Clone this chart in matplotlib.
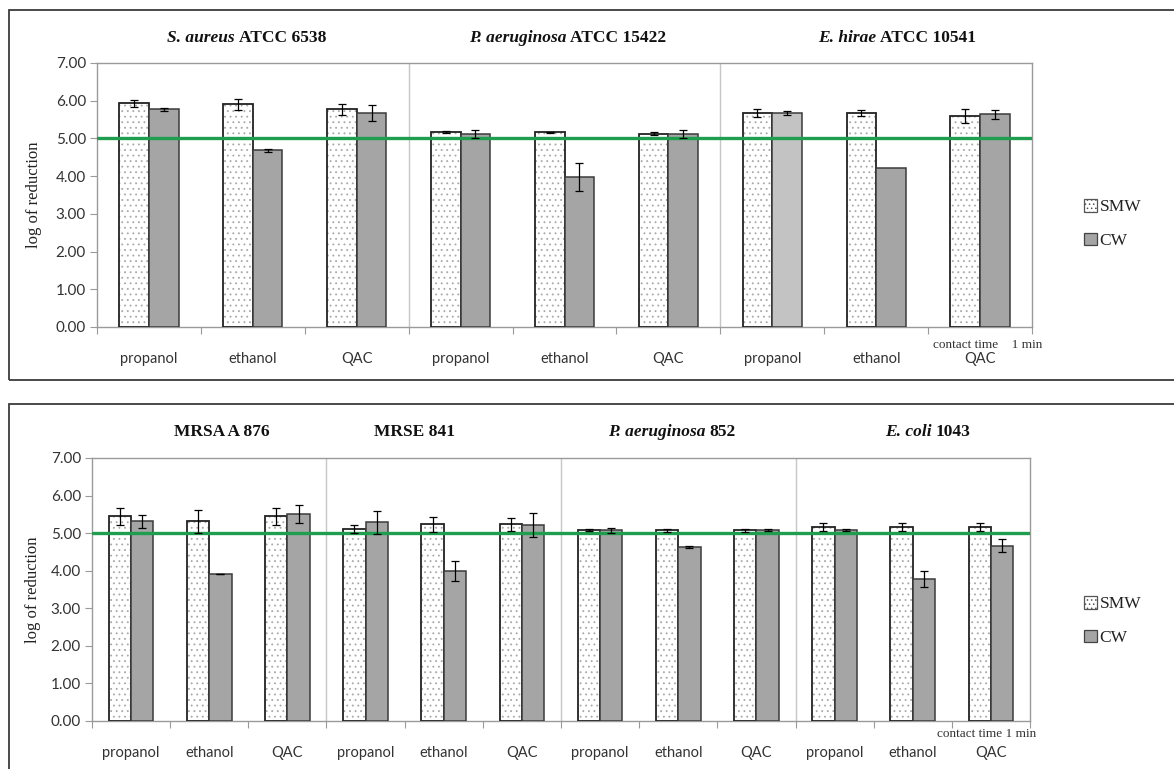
import numpy as np
import matplotlib
matplotlib.use("Agg")
import matplotlib.pyplot as plt
from matplotlib.patches import Patch, Rectangle
from matplotlib.offsetbox import TextArea, HPacker, AnnotationBbox
import matplotlib.transforms as mtransforms

# ---------------- data ----------------
top_categories = ["propanol", "ethanol", "QAC"] * 3
top_smw = [5.93, 5.90, 5.77, 5.17, 5.16, 5.13, 5.68, 5.68, 5.60]
top_smw_err = [0.10, 0.15, 0.15, 0.02, 0.02, 0.05, 0.10, 0.08, 0.19]
top_cw = [5.78, 4.69, 5.67, 5.12, 3.97, 5.12, 5.68, 4.21, 5.64]
top_cw_err = [0.04, 0.04, 0.22, 0.10, 0.37, 0.10, 0.06, 0.0, 0.12]
top_titles = [("S. aureus", "ATCC 6538"), ("P. aeruginosa", "ATCC 15422"),
              ("E. hirae", "ATCC 10541")]

bot_categories = ["propanol", "ethanol", "QAC"] * 4
bot_smw = [5.45, 5.31, 5.45, 5.11, 5.24, 5.24, 5.08, 5.08, 5.08, 5.16, 5.16, 5.16]
bot_smw_err = [0.22, 0.31, 0.22, 0.10, 0.20, 0.17, 0.03, 0.04, 0.04, 0.10, 0.10, 0.10]
bot_cw = [5.31, 3.91, 5.50, 5.29, 4.00, 5.21, 5.08, 4.64, 5.09, 5.08, 3.78, 4.67]
bot_cw_err = [0.16, 0.01, 0.24, 0.30, 0.27, 0.32, 0.07, 0.03, 0.03, 0.03, 0.21, 0.17]
bot_titles = [("", "MRSA A 876"), ("", "MRSE 841"), ("P. aeruginosa", "852"),
              ("E. coli", "1043")]

threshold = 5.0
series_names = ["SMW", "CW"]
y_ticks = [0, 1, 2, 3, 4, 5, 6, 7]

# ---------------- style ----------------
plt.rcParams['font.family'] = ['Lato', 'DejaVu Sans']
plt.rcParams['hatch.linewidth'] = 0.6
SERIF = ['Liberation Serif', 'DejaVu Serif']
W, H = 1174, 769
fig = plt.figure(figsize=(W / 100, H / 100), dpi=100)

CW_COLOR = '#a5a5a5'
CW_LIGHT = '#c3c3c3'
GREEN = '#1f9e50'
SPINE = '#9a9a9a'
TXT = '#333333'
DOT = '#a8a8a8'


def px_rect(l, t, r, b):
    return [l / W, 1 - b / H, (r - l) / W, (b - t) / H]


def draw_panel(ax, cats, smw, smw_err, cw, cw_err, titles, title_x, title_y,
               light_idx=None):
    n = len(cats)
    x = np.arange(n)
    w = 0.285
    ax.bar(x - w / 2, smw, w, color='white', edgecolor=DOT, hatch='...',
           linewidth=0, zorder=2)
    ax.bar(x - w / 2, smw, w, fill=False, edgecolor='#222222', linewidth=1.3,
           zorder=3)
    colors = [CW_COLOR] * n
    if light_idx is not None:
        colors[light_idx] = CW_LIGHT
    ax.bar(x + w / 2, cw, w, color=colors, edgecolor='#3a3a3a', linewidth=1.1,
           zorder=3)
    smw_a = np.array(smw); cw_a = np.array(cw)
    se = np.array(smw_err); ce = np.array(cw_err)
    m1 = se > 0
    ax.errorbar((x - w / 2)[m1], smw_a[m1], yerr=se[m1], fmt='none',
                ecolor='black', elinewidth=0.9, capsize=3, capthick=0.9,
                zorder=5)
    m2 = ce > 0
    ax.errorbar((x + w / 2)[m2], cw_a[m2], yerr=ce[m2], fmt='none',
                ecolor='black', elinewidth=0.9, capsize=3, capthick=0.9,
                zorder=5)
    ax.axhline(threshold, color=GREEN, linewidth=2.4, zorder=4)
    for b in np.arange(2.5, n - 1, 3):
        ax.axvline(b, color='#c6c6c6', linewidth=1.0, zorder=1)
    ax.set_xlim(-0.5, n - 0.5)
    ax.set_ylim(0, 7)
    ax.set_yticks(y_ticks)
    ax.yaxis.set_major_formatter('{x:.2f}')
    ax.set_xticks(np.arange(-0.5, n, 1.0))
    ax.set_xticklabels([])
    ax.set_xticks(x, minor=True)
    ax.set_xticklabels(cats, minor=True)
    ax.tick_params(axis='x', which='major', length=5, color=SPINE, direction='out')
    ax.tick_params(axis='x', which='minor', length=0, pad=18, labelsize=10.5,
                   labelcolor=TXT)
    ax.tick_params(axis='y', length=5, color=SPINE, labelsize=11, labelcolor=TXT,
                   pad=3)
    for s in ax.spines.values():
        s.set_color(SPINE)
        s.set_linewidth(1.0)
    trans = mtransforms.blended_transform_factory(ax.transData, fig.transFigure)
    for (it, up), tx in zip(titles, title_x):
        parts = []
        if it:
            parts.append(TextArea(it + " ", textprops=dict(
                family=SERIF, style='italic', weight='bold', size=12.5,
                color='#111111')))
        parts.append(TextArea(up, textprops=dict(
            family=SERIF, weight='bold', size=12.5, color='#111111')))
        pk = HPacker(children=parts, pad=0, sep=0, align='baseline')
        ab = AnnotationBbox(pk, (tx, 1 - title_y / H), xycoords=trans,
                            frameon=False, box_alignment=(0.5, 0.5), pad=0)
        ax.add_artist(ab)
        ab.set_clip_on(False)


# frames
for (l, t, r, b) in [(9, 10, 1190, 380), (9, 404, 1190, 772)]:
    fig.patches.append(Rectangle((l / W, 1 - b / H), (r - l) / W, (b - t) / H,
                                 transform=fig.transFigure, fill=False,
                                 edgecolor='#3c3c3c', linewidth=1.3))

ax1 = fig.add_axes(px_rect(97, 63, 1032, 327))
draw_panel(ax1, top_categories, top_smw, top_smw_err, top_cw, top_cw_err,
           top_titles, [0.94, 4.03, 7.2], 38, light_idx=6)

ax2 = fig.add_axes(px_rect(92, 458, 1030, 721))
draw_panel(ax2, bot_categories, bot_smw, bot_smw_err, bot_cw, bot_cw_err,
           bot_titles, [1.16, 3.63, 6.92, 10.19], 432)

# y labels
fig.text(34 / W, 1 - 195 / H, "log of reduction", rotation=90, ha='center',
         va='center', family=SERIF, size=12, color='#222222')
fig.text(33 / W, 1 - 590 / H, "log of reduction", rotation=90, ha='center',
         va='center', family=SERIF, size=12, color='#222222')

# contact time notes
fig.text(1042 / W, 1 - 345 / H, "contact time    1 min", ha='right', va='center',
         family=SERIF, size=9.5, color='#333333')
fig.text(1036 / W, 1 - 734 / H, "contact time 1 min", ha='right', va='center',
         family=SERIF, size=9.5, color='#333333')

# legends
handles = [Patch(facecolor='white', edgecolor='#555555', hatch='....',
                 linewidth=0.9, label=series_names[0]),
           Patch(facecolor=CW_COLOR, edgecolor='#444444', linewidth=0.9,
                 label=series_names[1])]
for yc in (224, 621):
    fig.legend(handles=handles, loc='center left',
               bbox_to_anchor=(1084 / W, 1 - yc / H), frameon=False,
               prop=dict(family=SERIF, size=12.5), handlelength=0.75,
               handleheight=0.75, handletextpad=0.15, labelspacing=1.0,
               borderpad=0, borderaxespad=0, labelcolor='#222222')

fig.savefig("out.png", dpi=100)
